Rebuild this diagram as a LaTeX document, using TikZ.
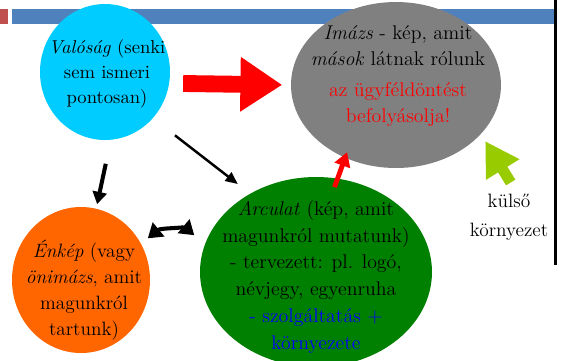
\documentclass[tikz,border=0pt]{standalone}
\usetikzlibrary{arrows.meta, shapes.geometric}
\definecolor{skyblue}{HTML}{00CCFF}
\definecolor{imagegray}{HTML}{808080}
\definecolor{selforange}{HTML}{FF6600}
\definecolor{brandgreen}{HTML}{008000}
\definecolor{limegreen}{HTML}{99CC00}
\definecolor{barblue}{HTML}{4F81BD}
\definecolor{barred}{HTML}{C0504D}

\begin{document}
\begin{tikzpicture}[x=0.02cm, y=-0.02cm,
    blob/.style={ellipse, inner sep=0pt, outer sep=0pt},
    txt/.style={align=center, inner sep=0pt, font=\fontsize{11.3}{15.3}\selectfont}]
      \useasboundingbox (0,0) rectangle (566,360);
      \fill[barred] (0,9) rectangle (8,24);
      \fill[barblue] (12,9) rectangle (554,24);
      \fill[black] (554,0) rectangle (557,265);
      \foreach \nm/\x/\y/\clr/\w/\h in {
        val/105/72/skyblue/130/136,
        imazs/396/85/imagegray/210/166,
        enkep/81/280/selforange/138/146,
        arc/316/272/brandgreen/232/190}{
        \node[blob, fill=\clr, minimum width=\w*0.02cm,
              minimum height=\h*0.02cm] (\nm) at (\x,\y) {};
      }
      \node[txt, font=\fontsize{10.6}{14.2}\selectfont] (valtxt) at (107,74)
        {\textit{Valóság} (senki\\sem ismeri\\pontosan)};
      \node[txt, font=\fontsize{11.3}{14.7}\selectfont] (imazstxt) at (398,76)
        {\textit{Imázs} - kép, amit\\\textit{mások} látnak rólunk\\[3.4pt]
         \textcolor{red}{az ügyféldöntést}\\\textcolor{red}{befolyásolja!}};
      \node[txt, font=\fontsize{11}{14.9}\selectfont] (enkeptxt) at (84,290)
        {\textit{Énkép} (vagy\\\textit{önimázs}, amit\\magunkról\\tartunk)};
      \node[txt] (arctxt) at (316,277)
        {\textit{Arculat} (kép, amit\\magunkról mutatunk)\\- tervezett: pl. logó,\\névjegy, egyenruha\\
         \textcolor{blue}{- szolgáltatás +}\\\textcolor{blue}{környezete}};
      \node[txt, font=\fontsize{11}{16.4}\selectfont] (kulso) at (509,217)
        {külső\\környezet};
      \draw[-{Triangle[length=23.8pt, width=29.5pt]}, line width=9.6pt, red,
            shorten <=8pt, shorten >=5pt] (val.-10) -- (imazs.west);
      \draw[-{Triangle[length=8pt, width=9pt]}, line width=2.8pt, red,
            shorten <=-5.1pt, shorten >=-3.3pt] (arc.77) -- (imazs.-125);
      \draw[-{Triangle[length=19pt, width=21pt]}, line width=6.2pt, limegreen,
            shorten <=7.4pt, shorten >=4.8pt] (kulso.70) -- (imazs.-30);
      \draw[-{Triangle[length=7pt, width=8pt]}, line width=2.3pt,
            shorten <=14pt, shorten >=2.7pt] (val.-85) -- (enkep.78);
      \draw[-{Triangle[length=7pt, width=6pt]}, line width=1.4pt,
            shorten <=16pt, shorten >=9pt] (val.-44) -- (arc.130);
      \draw[{Triangle[length=8pt, width=10pt]}-{Triangle[length=8pt, width=10pt]},
            line width=2.3pt, shorten <=5pt, shorten >=8pt]
            (enkep.31) to[bend left=40] (arc.166);
    \end{tikzpicture}
\end{document}
